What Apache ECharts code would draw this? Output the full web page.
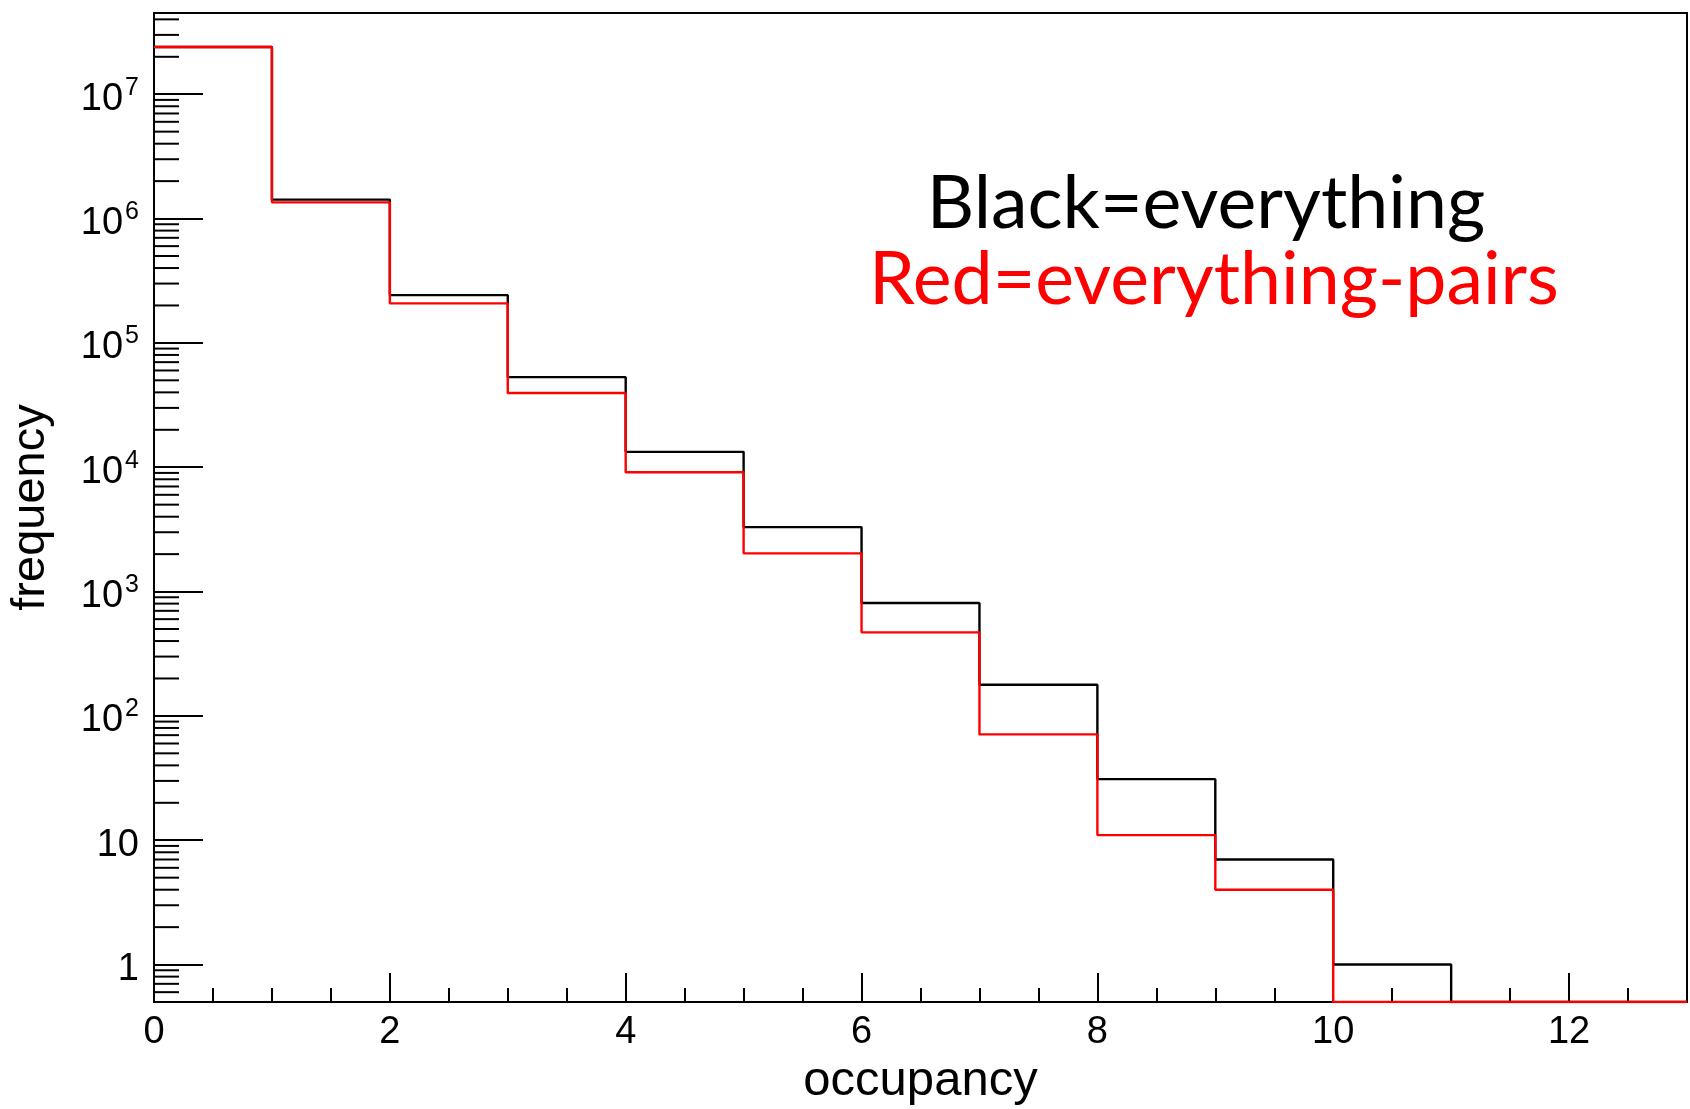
<!DOCTYPE html>
<html><head><meta charset="utf-8">
<script src="https://cdn.jsdelivr.net/npm/echarts@6/dist/echarts.min.js"></script>
<style>html,body{margin:0;padding:0;background:#fff}#c{width:1690px;height:1109px}</style>
</head><body><div id="c"></div>
<script>
// ---- data ----
const binLowEdges = [0, 1, 2, 3, 4, 5, 6, 7, 8, 9, 10, 11, 12];
const xMax = 13;
const blackEverything = [24000000, 1420000, 242000, 53000, 13300, 3300, 810, 178, 31, 7, 1, 0, 0];
const redEverythingMinusPairs = [24000000, 1350000, 208000, 39500, 9100, 2030, 470, 71, 11, 4, 0, 0, 0];
const yMin = 0.5;
const yMax = 4.5e7;
const legendTexts = ['Black=everything', 'Red=everything-pairs'];

// histogram outline as step line (empty bins sit on the axis floor like ROOT draws them)
function stepData(vals) {
  const pts = binLowEdges.map((x, i) => [x, Math.max(vals[i], yMin)]);
  pts.push([xMax, Math.max(vals[vals.length - 1], yMin)]);
  return pts;
}
// log minor tick values 2..9 x 10^k
const minorTicks = [];
for (let k = -1; k <= 7; k++) {
  for (let m = 2; m <= 9; m++) {
    const v = m * Math.pow(10, k);
    if (v > yMin && v < yMax) minorTicks.push(v);
  }
}

const AX = 'Liberation Sans, Arial, Helvetica, sans-serif';
const chart = echarts.init(document.getElementById('c'), null, {renderer: 'canvas'});
chart.setOption({
  animation: false,
  backgroundColor: '#fff',
  grid: {left: 154, right: 3, top: 13, bottom: 107, show: true, borderColor: '#000', borderWidth: 2, outerBoundsMode: 'none', containLabel: false},
  xAxis: [{
    type: 'value', min: 0, max: xMax, interval: 2, position: 'bottom',
    axisLine: {show: true, onZero: false, lineStyle: {color: '#000', width: 2}},
    axisTick: {show: true, inside: true, length: 29, lineStyle: {color: '#000', width: 2}},
    axisLabel: {show: true, margin: 12, color: '#000', fontFamily: AX, fontSize: 38, lineHeight: 38, showMaxLabel: false},
    splitLine: {show: false},
    name: 'occupancy', nameLocation: 'middle', nameGap: 49,
    nameTextStyle: {color: '#000', fontFamily: AX, fontSize: 49, lineHeight: 49}
  }, {
    type: 'value', min: 0, max: xMax, interval: 0.5, position: 'bottom',
    axisLine: {show: false},
    axisTick: {show: true, inside: true, length: 14, lineStyle: {color: '#000', width: 2}},
    axisLabel: {show: false},
    splitLine: {show: false}
  }],
  yAxis: [{
    type: 'log', logBase: 10, min: yMin, max: yMax, splitNumber: 10,
    axisLine: {show: true, lineStyle: {color: '#000', width: 2}},
    axisTick: {show: true, inside: true, length: 49, lineStyle: {color: '#000', width: 2}},
    axisLabel: {
      show: true, margin: 15, color: '#000', showMinLabel: false, showMaxLabel: false,
      formatter: function (v) {
        const e = Math.round(Math.log10(v));
        if (e === 0) return '{b|1}';
        if (e === 1) return '{b|10}';
        return '{b|10}{s|' + e + '}';
      },
      rich: {
        b: {fontFamily: AX, fontSize: 38, lineHeight: 38, color: '#000', padding: [5, 0, 0, 0], verticalAlign: 'top'},
        s: {fontFamily: AX, fontSize: 25, lineHeight: 25, color: '#000', verticalAlign: 'top', padding: [0, 0, 0, 2]}
      }
    },
    splitLine: {show: false},
    name: 'frequency', nameLocation: 'middle', nameGap: 99,
    nameTextStyle: {color: '#000', fontFamily: AX, fontSize: 47, lineHeight: 47}
  }],
  series: [{
    type: 'custom', coordinateSystem: 'cartesian2d', silent: true, clip: false,
    data: minorTicks.map(v => [0, v]),
    renderItem: function (params, api) {
      const p = api.coord([api.value(0), api.value(1)]);
      return {type: 'line', shape: {x1: p[0], y1: p[1], x2: p[0] + 25, y2: p[1]}, style: {stroke: '#000', lineWidth: 2}};
    },
    z: 3
  }, {
    name: 'everything', type: 'line', step: 'end', showSymbol: false, symbol: 'none',
    data: stepData(blackEverything),
    lineStyle: {color: '#000', width: 2.4}, itemStyle: {color: '#000'}, z: 4
  }, {
    name: 'everything-pairs', type: 'line', step: 'end', showSymbol: false, symbol: 'none',
    data: stepData(redEverythingMinusPairs),
    lineStyle: {color: '#ff0000', width: 2.4}, itemStyle: {color: '#ff0000'}, z: 5
  }],
  graphic: [{
    type: 'text', x: 1206, y: 204,
    style: {text: legendTexts[0], fill: '#000', font: '73.5px Lato', align: 'center', verticalAlign: 'middle'}
  }, {
    type: 'text', x: 1214, y: 280,
    style: {text: legendTexts[1], fill: '#ff0000', font: '73.5px Lato', align: 'center', verticalAlign: 'middle'}
  }]
});
</script></body></html>
